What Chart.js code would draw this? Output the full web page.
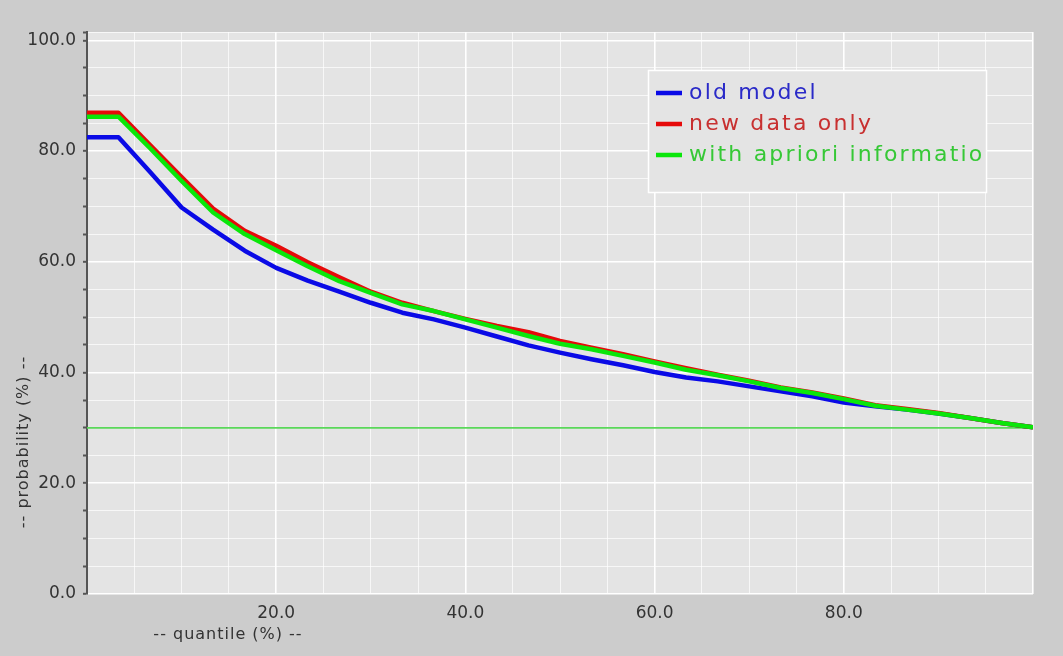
<!DOCTYPE html>
<html><head><meta charset="utf-8">
<script src="https://cdn.jsdelivr.net/npm/chart.js@4/dist/chart.umd.min.js"></script>
<style>html,body{margin:0;padding:0;background:#cccccc;overflow:hidden}#wrap{width:1063px;height:656px}</style>
</head><body><div id="wrap"><canvas id="c" width="1063" height="656"></canvas></div>
<script>
// ---- data ----
const quantiles = [0, 3.33, 6.67, 10, 13.33, 16.67, 20, 23.33, 26.67, 30, 33.33, 36.67, 40, 43.33, 46.67, 50, 53.33, 56.67, 60, 63.33, 66.67, 70, 73.33, 76.67, 80, 83.33, 86.67, 90, 93.33, 96.67, 100];
const oldModel    = [82.5, 82.5, 76.2, 69.8, 65.8, 62.0, 58.9, 56.6, 54.6, 52.6, 50.8, 49.6, 48.1, 46.5, 44.9, 43.6, 42.4, 41.3, 40.1, 39.1, 38.4, 37.5, 36.6, 35.7, 34.6, 33.9, 33.3, 32.6, 31.8, 30.9, 30.1];
const newDataOnly = [86.9, 86.9, 81.1, 75.3, 69.6, 65.6, 62.9, 59.9, 57.2, 54.6, 52.6, 51.1, 49.7, 48.4, 47.3, 45.7, 44.5, 43.3, 42.0, 40.8, 39.6, 38.5, 37.3, 36.4, 35.3, 34.1, 33.4, 32.7, 31.8, 30.9, 30.1];
const withApriori = [86.2, 86.2, 80.5, 74.6, 68.9, 65.0, 62.1, 59.2, 56.5, 54.4, 52.3, 51.1, 49.6, 48.1, 46.6, 45.2, 44.2, 43.0, 41.8, 40.5, 39.5, 38.4, 37.2, 36.3, 35.2, 34.0, 33.3, 32.6, 31.8, 30.9, 30.1];
const refLineX = [0, 100];
const refLineY = [30, 30];
const seriesNames = ['old model', 'new data only', 'with apriori information'];
const yLabelValues = [0, 20, 40, 60, 80, 100];
const xLabelValues = [20, 40, 60, 80];
const xTitle = '-- quantile (%) --';
const yTitle = '-- probability (%) --';

// ---- styles ----
const colors = ['#0a0ae6', '#e60a0a', '#0ae60a'];
const textColors = ['#2a2ac8', '#c83030', '#36c836'];
const FONT = '"DejaVu Sans", sans-serif';

function pts(xs, ys) { return xs.map((x, i) => ({ x: x, y: ys[i] })); }

const bgPlugin = {
  id: 'bg',
  beforeDraw(chart) {
    const c = chart.ctx, a = chart.chartArea;
    c.save();
    c.fillStyle = '#cccccc';
    c.fillRect(0, 0, chart.width, chart.height);
    c.fillStyle = '#e4e4e4';
    c.fillRect(a.left, a.top, a.right - a.left, a.bottom - a.top);
    c.restore();
  }
};

const overlayPlugin = {
  id: 'overlay',
  afterDraw(chart) {
    const c = chart.ctx, a = chart.chartArea;
    c.save();
    // axis titles
    c.fillStyle = '#333333';
    c.font = '16px ' + FONT;
    try { c.letterSpacing = '1px'; } catch (e) {}
    c.textAlign = 'center';
    c.textBaseline = 'middle';
    c.fillText(xTitle, a.left + 141, a.bottom + 41);
    c.save();
    c.translate(24, a.top + 410);
    c.rotate(-Math.PI / 2);
    c.fillText(yTitle, 0, 0);
    c.restore();

    // legend box
    const bx = a.left + 561, by = a.top + 38, bw = 339, bh = 123;
    c.fillStyle = '#e4e4e4';
    c.fillRect(bx, by, bw, bh);
    c.strokeStyle = '#ffffff';
    c.lineWidth = 1.5;
    c.strokeRect(bx + 0.5, by + 0.5, bw - 1, bh - 1);
    c.beginPath();
    c.rect(bx, by, bw - 2, bh);
    c.clip();
    c.font = '22px ' + FONT;
    try { c.letterSpacing = '2.2px'; } catch (e) {}
    c.textAlign = 'left';
    c.textBaseline = 'middle';
    for (let i = 0; i < seriesNames.length; i++) {
      const yy = by + 23 + i * 31;
      c.strokeStyle = colors[i];
      c.lineWidth = 4.5;
      c.beginPath();
      c.moveTo(bx + 8, yy);
      c.lineTo(bx + 34, yy);
      c.stroke();
      c.fillStyle = textColors[i];
      c.fillText(seriesNames[i], bx + 41, yy);
    }
    c.restore();
    try { c.letterSpacing = '0px'; } catch (e) {}
  }
};

function gridColor(ctx) {
  const v = ctx.tick ? ctx.tick.value : 0;
  return (Math.abs(v % 20) < 1e-6) ? '#ffffff' : 'rgba(255,255,255,0.7)';
}
function gridWidth(ctx) {
  const v = ctx.tick ? ctx.tick.value : 0;
  return (Math.abs(v % 20) < 1e-6) ? 1.6 : 1;
}

new Chart(document.getElementById('c'), {
  type: 'line',
  data: {
    datasets: [
      { label: seriesNames[0], data: pts(quantiles, oldModel), borderColor: colors[0], borderWidth: 4.5, pointRadius: 0, tension: 0, order: 2 },
      { label: seriesNames[1], data: pts(quantiles, newDataOnly), borderColor: colors[1], borderWidth: 4.5, pointRadius: 0, tension: 0, order: 1 },
      { label: seriesNames[2], data: pts(quantiles, withApriori), borderColor: colors[2], borderWidth: 4.5, pointRadius: 0, tension: 0, order: 0 },
      { label: 'ref', data: pts(refLineX, refLineY), borderColor: '#5ad85a', borderWidth: 1.6, pointRadius: 0, order: 3 }
    ]
  },
  options: {
    responsive: false,
    devicePixelRatio: 1,
    animation: false,
    layout: { padding: { top: 32, right: 30, left: 0, bottom: 0 } },
    plugins: { legend: { display: false }, tooltip: { enabled: false }, title: { display: false } },
    elements: { line: { borderJoinStyle: 'round', borderCapStyle: 'butt' } },
    scales: {
      x: {
        type: 'linear', min: 0, max: 100,
        afterFit(s) { s.height = 62; },
        afterBuildTicks(s) { const t = []; for (let v = 0; v <= 100; v += 5) t.push({ value: v }); s.ticks = t; },
        ticks: {
          autoSkip: false, maxRotation: 0, padding: 9, color: '#333333',
          font: { family: FONT, size: 17 },
          callback: (v) => xLabelValues.includes(v) ? v.toFixed(1) : ''
        },
        grid: { color: gridColor, lineWidth: gridWidth, drawTicks: false },
        border: { display: false }
      },
      y: {
        type: 'linear', min: 0, max: 101.5,
        afterFit(s) { s.width = 87; },
        afterBuildTicks(s) { const t = []; for (let v = 0; v <= 100; v += 5) t.push({ value: v }); t.push({ value: 101.5 }); s.ticks = t; },
        ticks: {
          autoSkip: false, padding: 7, color: '#333333',
          font: { family: FONT, size: 17 },
          callback: (v) => yLabelValues.includes(v) ? v.toFixed(1) : ''
        },
        grid: { color: gridColor, lineWidth: gridWidth, drawTicks: true, tickLength: 4, tickColor: '#555555', tickWidth: 2 },
        border: { display: true, color: '#555555', width: 2 }
      }
    }
  },
  plugins: [bgPlugin, overlayPlugin]
});
</script></body></html>
